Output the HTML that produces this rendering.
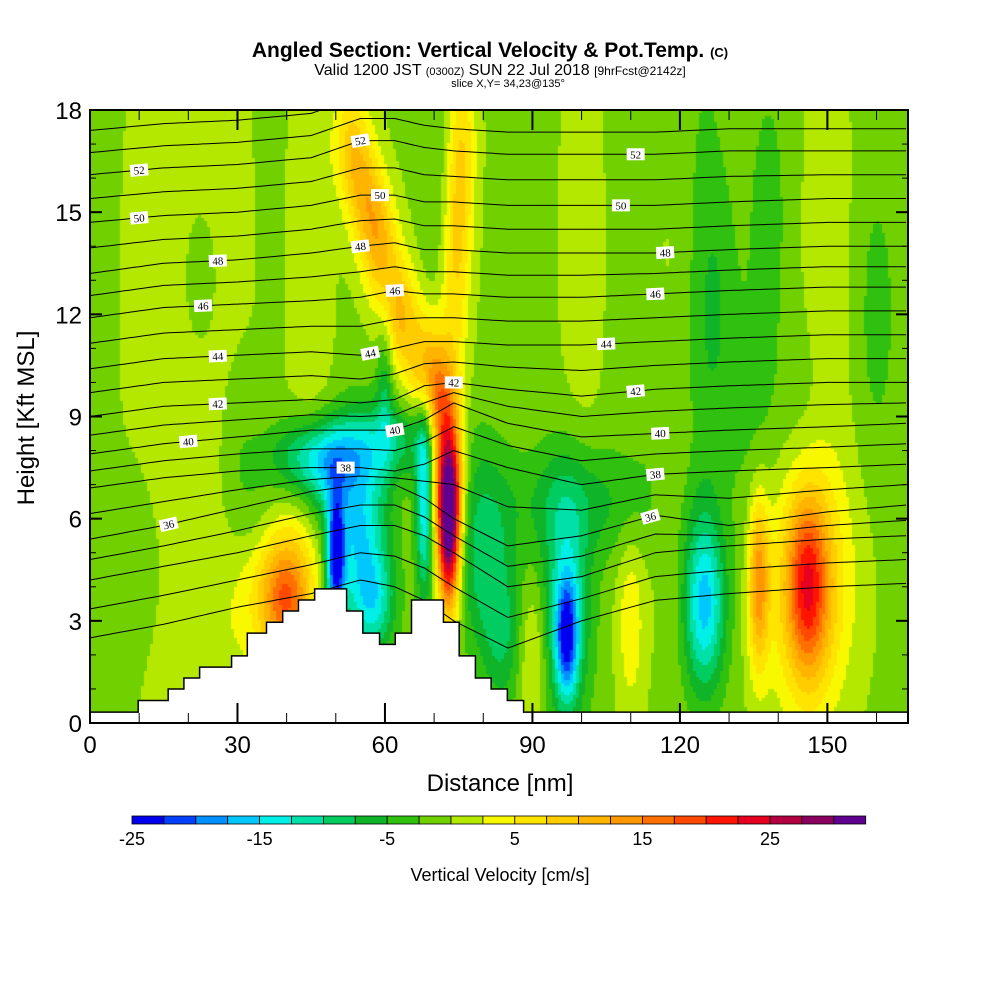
<!DOCTYPE html>
<html><head><meta charset="utf-8"><style>
body{margin:0;background:#fff;font-family:"Liberation Sans",sans-serif}
#wrap{position:relative;width:1000px;height:1000px;overflow:hidden}
canvas{position:absolute;left:90px;top:110px}
svg{position:absolute;left:0;top:0}
</style></head><body>
<div id="wrap">
<canvas id="fld" width="818" height="613"></canvas>
<svg id="ov" width="1000" height="1000">
<defs><clipPath id="pc"><rect x="90" y="110" width="818" height="613"/></clipPath></defs>
<text x="490" y="57" text-anchor="middle" font-size="21" font-weight="bold">Angled Section: Vertical Velocity &amp; Pot.Temp. <tspan font-size="13">(C)</tspan></text>
<text x="500" y="75" text-anchor="middle" font-size="16">Valid 1200 JST <tspan font-size="11">(0300Z)</tspan> SUN 22 Jul 2018 <tspan font-size="12">[9hrFcst@2142z]</tspan></text>
<text x="508" y="87" text-anchor="middle" font-size="11">slice X,Y= 34,23@135°</text>
<text x="500" y="791" text-anchor="middle" font-size="24">Distance [nm]</text>
<text transform="translate(34,418) rotate(-90)" text-anchor="middle" font-size="24">Height [Kft MSL]</text>
<text x="500" y="881" text-anchor="middle" font-size="18">Vertical Velocity [cm/s]</text>
<g id="cont" clip-path="url(#pc)"></g><g id="terr"></g><g id="axes"></g><g id="cbar"></g>
</svg></div>
<script>
const NS="http://www.w3.org/2000/svg";
const X0=90,X1=908,Y0=723,Y1=110,XMAX=166.4,ZMAX=18;
function sx(v){return X0+v/XMAX*(X1-X0);} function sy(v){return Y0-v/ZMAX*(Y0-Y1);}
const binStart=-25, binStep=2.5;
const binColors=["#0000f0","#0040ff","#0090ff","#00c8ff","#00f0e8","#00e0a8","#00cc60","#10b428","#30c010","#70d000","#b4e800","#f8f800","#ffe400","#ffcc00","#ffb400","#ff9800","#ff7000","#ff4800","#ff1400","#e80020","#b40040","#8c0060","#600090"];
const cbTicks=[-25,-15,-5,5,15,25];
// field blobs: x(nm), z(kft), value(cm/s), sx(nm), sz(kft)
const blobX=[73,73,71,68,63,59,56,53,75,74,76,50,55,46,68,62,97,97,125,146,146,136,40,37,110,90,34,128,160,22,84,58,48,117,138,
  20,45,100,118,150,125,135,70,60,100,80,10,30,20,145];
const blobZ=[5.5,7.5,9.5,10.5,12,14,15.5,17,15,12,17.5,4.8,5.5,7.8,6.5,8.3,2.5,3.5,3.5,4,4,4.2,3.6,4.5,3,2,6,12,12,13,2.5,3.5,7,10,15,
  12,13,14,9,12,13,8,16,10,6.5,5,4,8,1.5,9];
const blobV=[30,20,10,10,10,10,9,8,6,5,5,-22,-14,-11,-14,-7,-16,-11,-15,14,10,14,14,6,5,5,-4,-3,-3,-3,-6,-8,-6,-2,-3,
  2.8,2.5,2.2,2.2,2.2,-2.5,-2.5,-2,-6,-5,-8,-2.5,-2,1.8,-2];
const blobSX=[1.6,2,2,2.5,2.5,2.5,2.5,2.5,2,2,2,1.3,4,7,1.2,8,1.6,3.5,3,2.8,6,1.5,3.5,6,2,2,4,3,3,3,3,3,4,4,3,
  8,3,3,3,4,3,3,2,1.2,12,4,3,3,8,5];
const blobSZ=[1.6,1.5,1.2,1.2,1.2,1.2,1.2,1.2,2,2,2,1.3,2,0.8,2,0.8,1.2,2.5,1.8,1.8,2.6,1.8,1.2,2,2,1.5,1.2,3,3,2,1.5,1,1,2,3,
  8,6,5,4,6,6,3,3,1.5,1.2,2,2,2,1.5,2];
const baseVal=-0.6;
const terrX=[9.8,15.9,19.1,22.3,28.8,32.0,35.9,39.2,42.4,45.7,52.2,55.5,58.9,62.1,65.4,71.9,75.1,78.4,81.6,84.9,88.2];
const terrZ=[0.66,1.0,1.32,1.64,1.97,2.64,2.96,3.29,3.61,3.94,3.29,2.64,2.31,2.64,3.61,2.96,1.97,1.32,1.0,0.66];
const floorZ=0.32;
const cKnots=[0,15,30,45,55,62,68,74,85,100,115,130,150,166];
const cLevels=[32,34,36,38,40,42,44,46,48,50,52,54];
const cZ=[
[2.5,2.9,3.4,3.8,4.2,4.0,3.6,3.0,2.2,3.0,3.6,3.8,4.0,4.1],
[4.2,4.6,5.0,5.5,5.8,5.8,5.5,5.0,4.0,4.3,5.0,5.2,5.4,5.5],
[5.4,5.8,6.3,6.8,7.0,7.0,6.6,6.0,5.2,5.5,6.1,5.8,6.2,6.4],
[6.9,7.2,7.4,7.5,7.5,7.4,7.6,8.0,7.5,7.0,7.3,7.4,7.5,7.6],
[7.9,8.2,8.4,8.6,8.6,8.6,8.9,9.4,8.8,8.4,8.5,8.6,8.7,8.8],
[9.0,9.3,9.4,9.5,9.4,9.5,9.9,10.0,9.8,9.6,9.8,9.9,10.0,10.0],
[10.4,10.7,10.8,10.9,10.8,11.0,11.2,11.2,11.1,11.1,11.2,11.3,11.4,11.4],
[11.9,12.2,12.3,12.4,12.5,12.7,12.6,12.6,12.5,12.5,12.6,12.7,12.8,12.8],
[13.2,13.5,13.6,13.8,14.0,14.1,13.9,13.9,13.8,13.8,13.8,13.9,14.0,14.0],
[14.7,14.9,15.0,15.2,15.5,15.5,15.3,15.3,15.2,15.2,15.2,15.3,15.4,15.4],
[16.1,16.3,16.4,16.6,17.1,17.1,16.9,16.8,16.7,16.7,16.7,16.8,16.8,16.8],
[17.4,17.6,17.7,17.9,18.4,18.4,18.2,18.1,18.0,18.0,18.0,18.1,18.1,18.1]];
const labLevel=[52,50,48,46,44,42,40,36,52,50,48,46,44,42,40,38,52,50,48,46,44,42,40,38,36];
const labX=[10,10,26,23,26,26,20,16,55,59,55,62,57,74,62,52,111,108,117,115,105,111,116,115,114];
const yTicks=[0,3,6,9,12,15,18];
const xTicks=[0,30,60,90,120,150];

function field(x,z){let v=baseVal;for(let i=0;i<blobX.length;i++){const dx=(x-blobX[i])/blobSX[i],dz=(z-blobZ[i])/blobSZ[i];v+=blobV[i]*Math.exp(-0.5*(dx*dx+dz*dz));}return v;}
function colorOf(v){let b=Math.floor((v-binStart)/binStep);b=Math.max(0,Math.min(binColors.length-1,b));return binColors[b];}
const ctx=document.getElementById('fld').getContext('2d');
const C=3;
for(let px=0;px<818;px+=C){for(let py=0;py<613;py+=C){const x=(px+C/2)/818*XMAX,z=(613-py-C/2)/613*ZMAX;ctx.fillStyle=colorOf(field(x,z));ctx.fillRect(px,py,C,C);}}
function interp(row,x){for(let i=0;i<cKnots.length-1;i++){if(x<=cKnots[i+1]){const t=(x-cKnots[i])/(cKnots[i+1]-cKnots[i]);return row[i]+t*(row[i+1]-row[i]);}}return row[row.length-1];}
const cg=document.getElementById('cont');
for(let li=0;li<cLevels.length;li++){for(let sub=0;sub<2;sub++){if(li===cLevels.length-1&&sub>0)continue;
  const a=cZ[li],b=cZ[Math.min(li+1,cZ.length-1)],t=sub/2;let d="";
  for(let x=0;x<=XMAX;x+=1){const z=interp(a,x)*(1-t)+interp(b,x)*t;d+=(x?"L":"M")+sx(x).toFixed(1)+","+sy(z).toFixed(1);}
  const p=document.createElementNS(NS,'path');p.setAttribute('d',d);p.setAttribute('fill','none');p.setAttribute('stroke','#000');p.setAttribute('stroke-width','1');
  
  
  cg.appendChild(p);}}
for(let i=0;i<labLevel.length;i++){const row=cZ[cLevels.indexOf(labLevel[i])];const x=labX[i];const z=interp(row,x);
  const slope=(sy(interp(row,x+1))-sy(interp(row,x-1)))/(sx(x+1)-sx(x-1));const ang=Math.atan(slope)*180/Math.PI;
  const g=document.createElementNS(NS,'g');g.setAttribute('transform',`translate(${sx(x)},${sy(z)}) rotate(${ang})`);
  
  
  g.innerHTML=`<rect x="-9" y="-6" width="18" height="12" fill="#fff"/><text x="0" y="4" font-size="11" text-anchor="middle" font-family="Liberation Serif,serif">${labLevel[i]}</text>`;cg.appendChild(g);}
let td=`M${sx(0)},${Y0}L${sx(0)},${sy(floorZ)}L${sx(terrX[0])},${sy(floorZ)}`;
for(let i=0;i<terrZ.length;i++){td+=`L${sx(terrX[i])},${sy(terrZ[i])}L${sx(terrX[i+1])},${sy(terrZ[i])}`;}
td+=`L${sx(terrX[terrX.length-1])},${sy(floorZ)}L${X1},${sy(floorZ)}L${X1},${Y0}Z`;
const tp=document.createElementNS(NS,'path');tp.setAttribute('d',td);tp.setAttribute('fill','#fff');tp.setAttribute('stroke','#000');tp.setAttribute('stroke-width','1.5');


document.getElementById('terr').appendChild(tp);
const ax=document.getElementById('axes');let h=`<rect x="${X0}" y="${Y1}" width="${X1-X0}" height="${Y0-Y1}" fill="none" stroke="#000" stroke-width="2"/>`;
yTicks.forEach(v=>{h+=`<line x1="${X0}" x2="${X0+12}" y1="${sy(v)}" y2="${sy(v)}" stroke="#000" stroke-width="2"/><line x1="${X1}" x2="${X1-12}" y1="${sy(v)}" y2="${sy(v)}" stroke="#000" stroke-width="2"/><text x="${X0-8}" y="${sy(v)+9}" font-size="24" text-anchor="end">${v}</text>`;});
for(let v=0;v<=18;v+=1){if(v%3)h+=`<line x1="${X0}" x2="${X0+6}" y1="${sy(v)}" y2="${sy(v)}" stroke="#000"/><line x1="${X1}" x2="${X1-6}" y1="${sy(v)}" y2="${sy(v)}" stroke="#000"/>`;}
xTicks.forEach(v=>{h+=`<line x1="${sx(v)}" x2="${sx(v)}" y1="${Y0}" y2="${Y0-20}" stroke="#000" stroke-width="2"/><line x1="${sx(v)}" x2="${sx(v)}" y1="${Y1}" y2="${Y1+20}" stroke="#000" stroke-width="2"/><text x="${sx(v)}" y="${Y0+30}" font-size="24" text-anchor="middle">${v}</text>`;});
for(let v=10;v<=160;v+=10){if(v%30)h+=`<line x1="${sx(v)}" x2="${sx(v)}" y1="${Y0}" y2="${Y0-10}" stroke="#000"/><line x1="${sx(v)}" x2="${sx(v)}" y1="${Y1}" y2="${Y1+10}" stroke="#000"/>`;}
ax.innerHTML=h;
const cb=document.getElementById('cbar');const cbx=132,cbw=31.9;let ch="";
binColors.forEach((c,i)=>{ch+=`<rect x="${cbx+i*cbw}" y="816" width="${cbw}" height="8" fill="${c}" stroke="#000" stroke-width="0.8"/>`;});
cbTicks.forEach(v=>{const x=cbx+(v-binStart)/binStep*cbw;ch+=`<text x="${x}" y="845" font-size="18" text-anchor="middle">${v}</text>`;});
cb.innerHTML=ch;
</script></body></html>
